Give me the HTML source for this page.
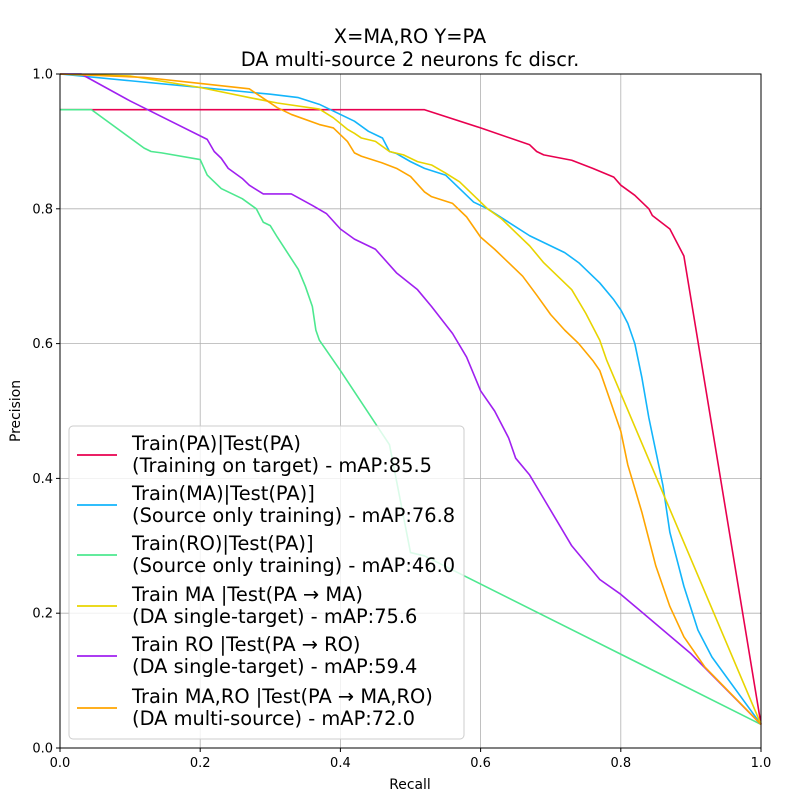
<!DOCTYPE html>
<html><head><meta charset="utf-8"><style>
body{margin:0;background:#fff}
svg{font-family:"DejaVu Sans","Liberation Sans",sans-serif}
</style></head><body>
<svg id="c" width="800" height="800" viewBox="0 0 800 800">
<text x="410" y="43" font-size="19.4" text-anchor="middle">X=MA,RO Y=PA</text>
<text x="410" y="66" font-size="19.4" text-anchor="middle">DA multi-source 2 neurons fc discr.</text>
<g id="grid"></g><g id="series"></g>
<rect x="60" y="74" width="701" height="674" fill="none" stroke="#000" stroke-width="1"/>
<g id="ticks"></g>
<text x="410" y="789" font-size="13.9" text-anchor="middle">Recall</text>
<text x="20" y="411" font-size="13.9" text-anchor="middle" transform="rotate(-90 20 411)">Precision</text>
<g id="legend"></g>
</svg>
<script>
const xTicks=[0,0.2,0.4,0.6,0.8,1.0];
const yTicks=[0,0.2,0.4,0.6,0.8,1.0];
const seriesNames=["Train(PA)|Test(PA)","Train(MA)|Test(PA)]","Train(RO)|Test(PA)]","Train MA |Test(PA \u2192 MA)","Train RO |Test(PA \u2192 RO)","Train MA,RO |Test(PA \u2192 MA,RO)"];
const seriesSub=["(Training on target) - mAP:85.5","(Source only training) - mAP:76.8","(Source only training) - mAP:46.0","(DA single-target) - mAP:75.6","(DA single-target) - mAP:59.4","(DA multi-source) - mAP:72.0"];
const seriesColors=["#e8004f","#13b5fb","#4de88f","#e8d400","#a020f0","#ffa500"];
const redPA=[[0,0.947],[0.52,0.947],[0.6,0.92],[0.67,0.895],[0.68,0.885],[0.69,0.88],[0.73,0.872],[0.76,0.86],[0.79,0.847],[0.80,0.835],[0.82,0.82],[0.84,0.80],[0.845,0.79],[0.87,0.77],[0.88,0.75],[0.89,0.73],[1.0,0.035]];
const blueMA=[[0,1.0],[0.1,0.99],[0.2,0.98],[0.3,0.97],[0.34,0.965],[0.37,0.955],[0.39,0.945],[0.42,0.93],[0.44,0.915],[0.46,0.905],[0.47,0.885],[0.48,0.882],[0.5,0.87],[0.52,0.86],[0.55,0.85],[0.57,0.83],[0.59,0.81],[0.61,0.80],[0.64,0.78],[0.67,0.76],[0.7,0.745],[0.72,0.735],[0.74,0.72],[0.77,0.69],[0.79,0.665],[0.80,0.65],[0.81,0.63],[0.82,0.60],[0.83,0.55],[0.84,0.49],[0.85,0.44],[0.86,0.39],[0.87,0.32],[0.89,0.24],[0.91,0.175],[0.93,0.135],[1.0,0.035]];
const greenRO=[[0,0.947],[0.045,0.947],[0.12,0.89],[0.13,0.885],[0.145,0.883],[0.2,0.873],[0.21,0.85],[0.22,0.84],[0.23,0.83],[0.26,0.815],[0.28,0.80],[0.29,0.78],[0.3,0.775],[0.31,0.758],[0.34,0.71],[0.35,0.685],[0.36,0.655],[0.365,0.62],[0.37,0.605],[0.38,0.59],[0.4,0.56],[0.47,0.45],[0.5,0.29],[0.52,0.285],[1.0,0.035]];
const yellowMA=[[0,1.0],[0.1,0.997],[0.2,0.98],[0.27,0.965],[0.31,0.957],[0.37,0.948],[0.39,0.935],[0.41,0.918],[0.42,0.912],[0.43,0.905],[0.45,0.9],[0.47,0.885],[0.49,0.88],[0.51,0.87],[0.53,0.865],[0.55,0.853],[0.57,0.84],[0.59,0.82],[0.61,0.80],[0.63,0.785],[0.65,0.765],[0.67,0.745],[0.69,0.72],[0.71,0.70],[0.73,0.68],[0.75,0.645],[0.77,0.605],[0.78,0.575],[1.0,0.035]];
const purpleRO=[[0,1.0],[0.03,1.0],[0.1,0.96],[0.21,0.903],[0.22,0.885],[0.23,0.875],[0.24,0.86],[0.26,0.845],[0.27,0.835],[0.29,0.822],[0.33,0.822],[0.36,0.805],[0.38,0.793],[0.4,0.77],[0.42,0.755],[0.45,0.74],[0.48,0.705],[0.51,0.68],[0.53,0.655],[0.56,0.615],[0.58,0.58],[0.6,0.53],[0.62,0.50],[0.64,0.46],[0.65,0.43],[0.67,0.405],[0.69,0.37],[0.71,0.335],[0.73,0.30],[0.75,0.275],[0.77,0.25],[0.8,0.228],[0.9,0.14],[1.0,0.035]];
const orangeMARO=[[0,1.0],[0.12,0.995],[0.2,0.986],[0.27,0.978],[0.31,0.95],[0.33,0.94],[0.37,0.925],[0.39,0.92],[0.41,0.90],[0.42,0.883],[0.43,0.878],[0.46,0.868],[0.48,0.86],[0.5,0.848],[0.52,0.825],[0.53,0.818],[0.56,0.808],[0.58,0.788],[0.6,0.758],[0.62,0.74],[0.64,0.72],[0.66,0.70],[0.68,0.672],[0.7,0.643],[0.72,0.62],[0.74,0.60],[0.76,0.575],[0.77,0.56],[0.78,0.53],[0.8,0.47],[0.81,0.42],[0.83,0.35],[0.85,0.27],[0.87,0.21],[0.89,0.165],[0.92,0.12],[1.0,0.035]];
const seriesData=[redPA,blueMA,greenRO,yellowMA,purpleRO,orangeMARO];
const NS="http://www.w3.org/2000/svg";
const X0=60,X1=761,Y0=748,Y1=74;
function sx(v){return X0+v*(X1-X0);}
function sy(v){return Y0-v*(Y0-Y1);}
function mk(t,a,p){const e=document.createElementNS(NS,t);for(const k in a)e.setAttribute(k,a[k]);p.appendChild(e);return e;}
const grid=document.getElementById('grid'),ticks=document.getElementById('ticks'),ser=document.getElementById('series'),leg=document.getElementById('legend');
xTicks.forEach(v=>{
 const g=mk('line',{x1:sx(v),x2:sx(v),y1:Y1,y2:Y0,stroke:'#b0b0b0','stroke-width':0.8},grid);
 
 
 const t=mk('line',{x1:sx(v),x2:sx(v),y1:Y0,y2:Y0+4,stroke:'#000'},ticks);
 
 
 const l=mk('text',{x:sx(v),y:Y0+19,'font-size':13,'text-anchor':'middle'},ticks);l.textContent=v.toFixed(1);
 
 
});
yTicks.forEach(v=>{
 const g=mk('line',{x1:X0,x2:X1,y1:sy(v),y2:sy(v),stroke:'#b0b0b0','stroke-width':0.8},grid);
 
 
 const t=mk('line',{x1:X0-4,x2:X0,y1:sy(v),y2:sy(v),stroke:'#000'},ticks);
 
 
 const l=mk('text',{x:X0-7,y:sy(v)+4.5,'font-size':13,'text-anchor':'end'},ticks);l.textContent=v.toFixed(1);
 
 
});
seriesData.forEach((d,i)=>{
 const p=mk('polyline',{points:d.map(q=>sx(q[0])+','+sy(q[1])).join(' '),fill:'none',stroke:seriesColors[i],'stroke-width':1.6,'stroke-linejoin':'round'},ser);
 
 
});
const box=mk('rect',{x:69,y:426,width:395,height:313,rx:4,fill:'#fff','fill-opacity':0.8,stroke:'#ccc'},leg);


const lys=[455,505,555,606,656,708];
seriesNames.forEach((n,i)=>{
 const y=lys[i];
 const g=mk('g',{},leg);
 
 
 mk('line',{x1:77,x2:117,y1:y,y2:y,stroke:seriesColors[i],'stroke-width':1.8},g);
 const t1=mk('text',{x:132,y:y-5,'font-size':19.4},g);t1.textContent=n;
 const t2=mk('text',{x:132,y:y+17,'font-size':19.4},g);t2.textContent=seriesSub[i];
});
</script>
</body></html>
